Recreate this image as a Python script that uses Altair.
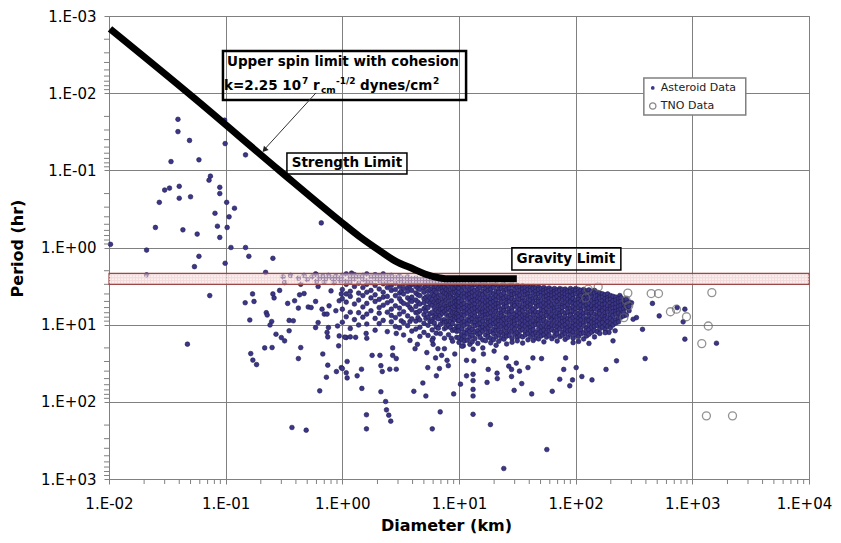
import altair as alt
import pandas as pd

W, H = 700, 463

# ---------------- data ----------------
ast_small = [(0.039,0.0218),(0.039,0.0315),(0.049,0.041),(0.034,0.077),(0.059,0.073),(0.098,0.0224),
             (0.099,0.045),(0.148,0.063),(0.074,0.119),(0.072,0.134),(0.040,0.161),(0.030,0.18),
             (0.033,0.17),(0.040,0.23),(0.050,0.22),(0.027,0.26),(0.089,0.166),(0.089,0.20),
             (0.102,0.26),(0.119,0.31),(0.081,0.36),(0.107,0.40),(0.025,0.55),(0.043,0.59),
             (0.085,0.53),(0.103,0.55),(0.057,0.67),(0.089,0.74),(0.66,0.48),(0.0103,0.91),
             (0.021,1.08),(0.111,1.0),(0.148,1.0),(0.158,1.3),(0.254,1.38),(0.059,1.3),
             (0.054,1.77),(0.099,1.6),(0.22,2.1),(0.59,2.2),(0.021,2.26)]
ast_sub1 = [(0.073,4.2),(0.047,17.9),(0.147,5.2),(0.170,4.0),(0.175,5.0),(0.161,8.7),(0.254,4.0),
            (0.26,4.5),(0.29,3.6),(0.223,7.0),(0.227,7.5),(0.248,9.1),(0.24,10.1),(0.27,13.3),
            (0.30,14.7),(0.32,16.2),(0.216,20),(0.25,19.8),(0.164,23.7),(0.171,28.8),(0.184,32.9),
            (0.34,5.3),(0.35,8.8),(0.38,8.9),(0.35,12),(0.39,4.9),(0.43,4.1),(0.47,3.95),(0.42,6.1),
            (0.51,5.9),(0.54,6.0),(0.44,19.8),(0.42,27.5),(0.37,215),(0.49,233),(0.44,3.0),(0.32,2.85),
            (0.62,3.2),(0.59,5.0),(0.80,3.65),(0.77,5.7),(0.67,6.3),(0.70,7.3),(0.74,7.3),(0.88,6.6),
            (0.94,4.9),(0.62,9.4),(0.59,10.9),(0.76,10.9),(0.91,10.4),(0.74,12.6),(0.75,14.4),
            (0.94,14),(0.93,18.8),(1.08,14.7),(0.68,24),(0.75,33.5),(0.73,48),(0.89,40.5),(0.98,36),
            (1.1,30),(1.08,42),(1.1,49),(0.64,72),(0.98,4.0)]
ast_band_row = [(0.31,2.4),(0.36,2.3),(0.42,2.5),(0.47,2.3),(0.5,2.6),(0.55,2.4),(0.6,2.25),(0.64,2.5),
                (0.68,2.35),(0.72,2.55),(0.76,2.3),(0.8,2.45),(0.84,2.6),(0.88,2.35),(0.92,2.5),
                (0.96,2.7),(0.7,2.8),(0.85,2.85),(0.6,2.75),(1.2,2.15)]
ast_slow = [(1.0,37),(1.34,46),(1.46,37.8),(1.47,67),(1.61,147),(1.61,224),(2.14,34),(2.2,40.5),
            (2.14,74),(2.35,99),(2.39,127),(2.5,149),(2.6,178),(2.55,37.8),(2.9,37.8),(2.9,27.5),
            (4.1,73),(4.9,57),(5.2,84),(5.9,224),(6.9,135),(6.8,37),(8.1,34),(9.0,79),(10.3,59),
            (11.6,46),(13.2,44),(13.2,53),(13.2,69),(13.2,84),(13.2,145),(13.4,29.4),(11.6,29),
            (17.4,56),(17.8,38),(18.6,197),(21.2,42.5),(21.3,50),(24.2,731),(28.2,38),(28.2,47),
            (29.7,71),(34.5,58),(42,79),(56.6,415),(63,73),(73,51),(89,62),(94,52),(113,47),
            (138,52),(182,38),(224,29.4),(394,27.5)]
ast_mid_extra = [(1.05,14.5),(1.17,14.4),(1.3,14.6),(1.6,13),(1.62,15),(1.8,25),(2.1,25),(2.7,20),
                 (2.7,25),(2.9,13),(3.8,16),(4.2,20.5),(4.4,18),(5.3,23),(6.0,15),(6.0,18),(6.3,27),
                 (7.1,25),(7.5,20.5),(8.6,15),(5.4,36),(6.4,46),(7.9,29),(6.6,20.5),(9.2,24),
                 (10.9,18.8),(13.2,20.8),(16.2,24),(20,22),(25.4,27),(31,31.5),(26.7,34.5),(33,40),
                 (39,36),(43,27),(51,27.5),(79,38),(82,27),(101,36)]
ast_large = [(455,5.3),(520,7.7),(374,11.5),(863,15.4),(1610,17.4),(863,6.3),(834,9.2),(741,6.0),
             (332,8.1),(311,8.5),(209,16.2),(218,12),(193,12.6),(239,4.2),(255,5.2),(301,5.2)]

# dense cloud, read column by column: (D km, [P hr ...])
cloud_small_D = [
    (1.00, [2.3, 2.65, 3.5, 4.6, 6.3, 9.3]),
    (1.08, [2.2, 2.75, 3.0, 4.0, 5.1, 7.9]),
    (1.17, [2.45, 2.8, 3.7, 4.3, 6.9, 11.2]),
    (1.27, [2.25, 2.55, 3.2, 5.4, 8.6]),
    (1.38, [2.4, 2.9, 3.9, 4.8, 7.0, 10.1]),
    (1.50, [2.3, 2.6, 3.3, 4.2, 5.9, 8.0]),
    (1.62, [2.2, 2.7, 3.0, 3.8, 5.3, 7.3, 9.8]),
    (1.76, [2.4, 2.85, 3.6, 4.5, 6.6]),
    (1.91, [2.25, 2.55, 3.1, 4.1, 5.0, 8.3, 11.8]),
    (2.07, [2.35, 2.7, 3.45, 4.7, 6.0, 7.1, 9.7]),
    (2.24, [2.2, 2.5, 2.95, 3.8, 4.4, 5.6, 8.8]),
    (2.43, [2.4, 2.8, 3.3, 4.3, 5.2, 6.9, 12.3]),
    (2.63, [2.3, 2.6, 3.1, 3.6, 4.9, 6.3, 7.6, 9.2]),
    (2.85, [2.45, 2.9, 3.5, 4.2, 5.7, 8.1, 10.6]),
    (3.09, [2.35, 2.7, 3.2, 3.9, 4.6, 6.1, 7.3, 11]),
    (3.2, [2.6, 3.7, 5.0, 8.9]),
    (3.35, [2.5, 2.95, 3.4, 4.0, 5.3, 6.8, 9.4, 13.6]),
    (3.63, [2.4, 2.75, 3.3, 3.7, 4.5, 5.5, 7.7, 10.3]),
    (3.8, [2.65, 3.15, 4.8, 6.0, 9.1]),
    (3.94, [2.55, 3.0, 3.6, 4.4, 5.0, 6.4, 8.4, 12.1]),
    (4.27, [2.5, 2.85, 3.2, 3.9, 4.8, 5.8, 7.0, 9.0, 11.4]),
    (4.45, [2.7, 3.4, 4.1, 5.1, 6.9, 8.1]),
    (4.62, [2.6, 3.05, 3.5, 4.2, 5.4, 6.6, 8.7, 10.8, 14.2]),
    (5.01, [2.55, 2.9, 3.35, 3.8, 4.6, 5.2, 6.2, 7.4, 9.6, 12.6]),
    (5.2, [2.75, 3.2, 4.4, 5.9, 6.7, 8.3]),
    (5.43, [2.7, 3.1, 3.7, 4.3, 5.0, 6.0, 7.9, 10.2, 13.8]),
    (5.65, [2.85, 3.5, 4.5, 5.3, 7.2, 9.0]),
    (5.89, [2.6, 2.95, 3.4, 4.0, 4.7, 5.6, 6.9, 8.5, 9.2, 11.7, 16]),
    (6.15, [2.8, 3.3, 3.6, 4.2, 5.1, 6.1, 7.7, 9.5]),
    (6.38, [2.75, 3.2, 3.8, 4.5, 5.3, 6.5, 7.4, 8.1, 10.7, 12.9]),
    (6.65, [2.9, 3.4, 4.3, 5.0, 5.7, 6.8, 8.4, 11.1]),
    (6.92, [2.7, 3.0, 3.5, 4.1, 4.9, 5.9, 6.3, 7.6, 9.9, 13.1]),
    (7.2, [2.95, 3.35, 3.7, 4.7, 5.2, 6.2, 7.1, 8.8]),
    (7.50, [2.8, 3.25, 3.9, 4.4, 5.5, 6.7, 8.6, 9.4, 11.3, 15]),
    (7.8, [2.9, 3.0, 3.5, 4.0, 4.8, 5.8, 6.4, 7.4, 9.2, 10.8]),
    (8.13, [2.85, 3.1, 3.6, 4.2, 5.0, 5.7, 6.2, 7.8, 8.9, 10.2, 13.5]),
    (8.45, [2.95, 3.5, 4.1, 4.4, 5.4, 6.6, 7.5, 9.1, 10.9]),
    (8.81, [2.9, 3.35, 3.9, 4.6, 5.3, 6.0, 7.0, 8.3, 9.7, 11.9, 16.4]),
    (9.2, [3.0, 3.4, 3.8, 4.5, 5.1, 5.8, 6.9, 7.9, 8.6, 11.5]),
    (9.55, [2.85, 3.2, 3.7, 4.3, 4.9, 5.5, 6.4, 7.2, 8.1, 10.4, 12.2, 14.6]),
    (9.85, [2.95, 3.3, 4.0, 4.7, 5.6, 6.3, 7.5, 9.0, 10.8]),
]
cloud_large_D = [
    (10.0, [2.95, 3.4, 3.8, 4.6, 5.1, 5.9, 6.5, 7.9, 8.8, 10.6, 12, 14.8, 17]),
    (10.6, [3.1, 3.6, 4.2, 4.9, 5.5, 6.2, 7.3, 8.3, 9.5, 11.3, 13.4, 15.5, 19]),
    (11.1, [3.0, 3.3, 3.9, 4.4, 5.3, 6.0, 6.9, 7.6, 9.1, 10.2, 12.6, 14.2, 16.3]),
    (11.8, [3.2, 3.7, 4.1, 4.7, 5.6, 6.4, 7.1, 8.6, 9.8, 11.7, 13, 15.9]),
    (12.4, [2.95, 3.5, 4.0, 4.5, 5.2, 5.8, 6.7, 8.0, 8.9, 10.9, 12.2, 14.5, 18]),
    (13.0, [3.1, 3.4, 3.8, 4.3, 4.9, 5.7, 6.3, 7.4, 8.4, 9.4, 11.5, 13.7, 16.6]),
    (13.7, [3.0, 3.6, 4.2, 4.8, 5.4, 6.1, 7.0, 7.8, 9.2, 10.4, 12.4, 15.2]),
    (14.5, [3.2, 3.5, 3.9, 4.5, 5.0, 5.9, 6.6, 8.1, 8.7, 10.0, 11.9, 13.3, 17.5]),
    (15.2, [2.95, 3.3, 4.0, 4.6, 5.3, 6.2, 7.2, 8.5, 9.6, 11.1, 12.9, 14.7]),
    (16.0, [3.1, 3.7, 4.1, 4.8, 5.5, 6.4, 6.9, 7.7, 9.0, 10.7, 12.1, 15.8, 20]),
    (16.9, [3.0, 3.4, 3.8, 4.4, 5.1, 5.8, 6.7, 7.5, 8.2, 9.9, 11.4, 13.6, 16.1]),
    (17.8, [3.2, 3.6, 4.3, 4.9, 5.6, 6.3, 7.3, 8.8, 9.4, 11.0, 12.7, 14.4]),
    (18.7, [3.05, 3.5, 3.9, 4.6, 5.2, 6.0, 7.0, 7.9, 9.1, 10.3, 12.3, 15.0, 17.2]),
    (19.8, [3.1, 3.3, 4.0, 4.5, 5.0, 5.7, 6.5, 7.6, 8.6, 9.7, 11.6, 13.1, 15.6]),
    (20.8, [3.0, 3.7, 4.2, 4.8, 5.4, 6.1, 6.8, 8.0, 9.3, 10.8, 12.0, 14.3, 18.5]),
    (21.9, [3.2, 3.5, 3.8, 4.4, 5.3, 5.9, 7.1, 8.3, 8.9, 10.1, 11.8, 13.5, 16.4]),
    (23.1, [3.1, 3.4, 4.1, 4.7, 5.1, 6.3, 7.2, 7.7, 9.0, 10.5, 12.5, 14.9]),
    (24.3, [3.0, 3.6, 3.9, 4.5, 5.5, 6.0, 6.6, 7.9, 8.5, 9.8, 11.3, 13.2, 15.4]),
    (25.6, [3.2, 3.5, 4.3, 4.9, 5.2, 5.8, 6.9, 8.2, 9.5, 11.0, 12.8, 14.1, 17.8]),
    (27.0, [3.1, 3.4, 3.8, 4.4, 5.0, 6.2, 7.0, 7.5, 8.7, 10.2, 11.9, 13.8]),
    (28.5, [3.05, 3.7, 4.1, 4.6, 5.4, 6.1, 6.7, 8.0, 9.2, 10.6, 12.2, 15.1, 16.9]),
    (30.0, [3.2, 3.5, 4.0, 4.8, 5.3, 5.7, 7.3, 8.4, 9.0, 9.9, 11.5, 13.4]),
    (31.6, [3.1, 3.3, 3.9, 4.3, 5.1, 6.0, 6.8, 7.7, 8.6, 10.4, 12.6, 14.6, 16.2]),
    (33.3, [3.25, 3.6, 4.2, 4.7, 5.6, 6.4, 7.1, 8.1, 9.4, 10.9, 12.0, 13.9]),
    (35.1, [3.15, 3.45, 3.8, 4.5, 5.0, 5.9, 6.6, 7.6, 8.8, 10.1, 11.6, 14.4, 17.3]),
    (37.0, [3.3, 3.7, 4.1, 4.9, 5.4, 6.2, 7.4, 8.3, 9.1, 10.5, 12.4, 13.6]),
    (39.0, [3.2, 3.5, 4.0, 4.4, 5.2, 5.8, 6.9, 7.8, 8.5, 9.7, 11.2, 13.0, 15.7]),
    (41.1, [3.3, 3.6, 4.3, 4.8, 5.5, 6.1, 6.7, 8.0, 9.3, 10.8, 12.1, 14.2]),
    (43.3, [3.2, 3.4, 3.9, 4.6, 5.1, 6.3, 7.2, 7.5, 8.9, 10.3, 11.7, 13.3, 16.0]),
    (45.6, [3.35, 3.7, 4.1, 4.5, 5.3, 5.9, 6.8, 8.2, 9.5, 10.0, 12.7, 14.8]),
    (48.1, [3.25, 3.5, 4.0, 4.7, 5.0, 5.7, 7.0, 7.7, 8.6, 9.9, 11.4, 13.1, 15.3]),
    (50.7, [3.4, 3.8, 4.2, 4.9, 5.6, 6.4, 7.3, 8.4, 9.0, 10.6, 12.2, 14.0]),
    (53.4, [3.3, 3.6, 3.9, 4.4, 5.2, 6.0, 6.6, 7.9, 8.8, 10.2, 11.8, 13.5, 16.7]),
    (56.3, [3.45, 3.75, 4.3, 4.8, 5.4, 6.2, 7.1, 7.6, 9.2, 10.7, 12.5, 14.5]),
    (59.3, [3.35, 3.6, 4.1, 4.6, 5.1, 5.8, 6.9, 8.1, 9.6, 11.0, 12.0, 13.8]),
    (62.5, [3.5, 3.9, 4.2, 4.7, 5.5, 6.3, 7.4, 8.3, 8.7, 10.1, 11.6, 15.2]),
    (65.9, [3.4, 3.7, 4.0, 4.5, 5.3, 6.1, 6.7, 7.8, 9.0, 10.4, 12.3, 14.1]),
    (69.4, [3.55, 3.8, 4.3, 4.9, 5.0, 5.9, 7.0, 8.0, 9.4, 10.8, 11.9, 13.2, 16.3]),
    (73.2, [3.4, 3.6, 4.1, 4.6, 5.4, 6.4, 7.2, 7.7, 8.5, 9.8, 11.3, 14.3]),
    (77.1, [3.5, 3.9, 4.4, 4.8, 5.6, 6.0, 6.8, 8.2, 9.1, 10.5, 12.6, 13.7]),
    (81.3, [3.45, 3.7, 4.0, 4.5, 5.2, 5.8, 7.1, 7.9, 8.8, 10.0, 11.5, 13.0, 15.5]),
    (85.6, [3.6, 3.8, 4.2, 4.7, 5.5, 6.3, 6.9, 8.4, 9.3, 10.9, 12.1, 14.6]),
    (90.2, [3.4, 3.7, 4.3, 4.9, 5.1, 6.1, 7.3, 7.6, 8.6, 10.3, 11.8, 13.4]),
    (95.1, [3.55, 3.9, 4.1, 4.6, 5.3, 5.9, 6.7, 8.1, 9.5, 10.7, 12.4, 15.0, 17.1]),
    (100, [3.4, 3.6, 4.0, 4.8, 5.4, 6.2, 7.0, 7.8, 8.9, 10.2, 11.4, 13.6]),
    (106, [3.5, 3.8, 4.4, 4.7, 5.2, 6.0, 7.2, 8.3, 9.2, 10.6, 12.2, 14.2, 16.5]),
    (111, [3.6, 4.0, 4.2, 4.9, 5.6, 6.4, 6.8, 7.7, 8.7, 9.9, 11.7, 13.1]),
    (117, [3.5, 3.7, 4.3, 4.6, 5.1, 5.8, 7.1, 8.0, 9.4, 10.4, 12.8, 15.3]),
    (124, [3.65, 3.9, 4.1, 4.8, 5.5, 6.3, 6.9, 8.5, 9.0, 11.1, 12.0, 14.0]),
    (130, [3.55, 4.0, 4.5, 5.0, 5.3, 6.1, 7.4, 7.8, 8.8, 10.1, 11.6, 13.3, 17.5]),
    (137, [3.7, 4.1, 4.4, 4.9, 5.7, 6.5, 7.0, 8.2, 9.3, 10.8, 12.5]),
    (145, [3.6, 3.9, 4.6, 5.2, 5.9, 6.2, 7.3, 8.6, 9.6, 10.5, 11.9, 14.4]),
    (153, [3.8, 4.2, 4.7, 5.1, 5.6, 6.4, 7.5, 8.0, 9.1, 10.2, 12.3]),
    (161, [3.9, 4.3, 4.5, 5.3, 6.0, 6.8, 7.2, 8.4, 9.8, 11.3, 13.0]),
    (170, [4.0, 4.4, 4.9, 5.5, 6.2, 6.6, 7.7, 8.9, 9.4, 10.8]),
    (179, [4.1, 4.6, 5.1, 5.4, 6.1, 7.0, 7.9, 8.5, 10.0, 11.6, 12.7]),
    (188, [4.0, 4.5, 4.8, 5.7, 6.4, 6.9, 8.1, 9.2, 10.5]),
    (199, [4.2, 4.7, 5.2, 5.9, 6.3, 7.4, 8.3, 9.6, 11.0]),
    (209, [4.3, 4.9, 5.5, 6.1, 6.8, 7.6, 8.8, 10.1]),
    (221, [4.4, 4.8, 5.3, 6.0, 6.7, 7.3, 8.6, 9.5]),
    (233, [4.6, 5.1, 5.8, 6.5, 7.1, 8.2, 9.2]),
    (245, [4.5, 5.0, 5.6, 6.3, 7.4, 8.0]),
    (258, [4.8, 5.4, 6.2, 6.9, 7.7]),
    (272, [4.7, 5.3, 6.0, 7.5]),
    (287, [5.1, 5.8, 6.6]),
]

tno_pts = [(128,3.47),(156,3.24),(122,4.5),(280,3.9),(270,4.8),(259,8.1),(285,5.7),(444,3.95),
           (513,3.95),(649,6.8),(731,6.3),(891,7.9),(1470,3.84),(1370,10.4),(1205,17.6),
           (1320,152),(2210,152)]

limit_D = [0.0102, 0.0535, 0.292, 0.953, 1.42, 2.1, 2.83, 4.03, 5.1, 6.86, 8.36, 10.2, 31.3]
limit_P = [0.00147, 0.01153, 0.102, 0.452, 0.73, 1.106, 1.49, 1.89, 2.2, 2.48, 2.55, 2.55, 2.55]

band_P = [2.16, 3.0]
band_lines_P = [2.35, 2.57, 2.8]

decades_x = [0.01, 0.1, 1, 10, 100, 1000, 10000]
decades_y = [0.001, 0.01, 0.1, 1, 10, 100, 1000]

# ---------------- tables ----------------
rows = []
for grp in (ast_small, ast_sub1, ast_band_row, ast_slow, ast_mid_extra, ast_large):
    rows += [{"D": d, "P": p} for d, p in grp]
for d, ps in cloud_small_D + cloud_large_D:
    rows += [{"D": d, "P": p} for p in ps]
ast = pd.DataFrame(rows)
tno = pd.DataFrame([{"D": d, "P": p} for d, p in tno_pts])
lim = pd.DataFrame({"D": limit_D, "P": limit_P, "o": list(range(len(limit_D)))})

minor_x = [m * 10.0 ** e for e in range(-2, 4) for m in range(2, 10)]
minor_y = [m * 10.0 ** e for e in range(-3, 3) for m in range(2, 10)]

xs = alt.Scale(type="log", domain=[0.01, 10000], nice=False)
ys = alt.Scale(type="log", domain=[0.001, 1000], nice=False, reverse=True)

lab = "'1.E' + (datum.value < 1 ? '-' : '+') + '0' + abs(round(log(datum.value) / LN10))"
GRID = "#808080"
FONT = "DejaVu Sans"

xaxis = alt.Axis(values=decades_x, labelExpr=lab, grid=True, gridColor=GRID, gridOpacity=1,
                 domainColor=GRID, tickColor=GRID, tickSize=5, labelFont=FONT, labelFontSize=15,
                 labelColor="black", labelPadding=12, labelFlush=False, labelOverlap=False,
                 labelBound=False,
                 labelOffset={"condition": {"test": "datum.value >= 10000", "value": -5}, "value": 0},
                 title="Diameter (km)", titleFont=FONT, titleFontSize=16, titleFontWeight="bold",
                 titleColor="black", titleX=337, titleY=46, titleBaseline="middle", titleAlign="center")
yaxis = alt.Axis(values=decades_y, labelExpr=lab, grid=True, gridColor=GRID, gridOpacity=1,
                 domainColor=GRID, tickColor=GRID, tickSize=5, labelFont=FONT, labelFontSize=15,
                 labelColor="black", labelPadding=8, labelOverlap=False, labelFlush=False,
                 title="Period (hr)", titleFont=FONT, titleFontSize=16, titleFontWeight="bold",
                 titleColor="black", titleAngle=270, titleX=-92, titleY=232,
                 titleBaseline="middle", titleAlign="center")

def X(f):
    return alt.X(f, scale=xs, axis=xaxis)

def Y(f):
    return alt.Y(f, scale=ys, axis=yaxis)

points = alt.Chart(ast).mark_circle(size=22, color="#3b3687", stroke="#1e1b4f",
                                     strokeWidth=0.6, opacity=1).encode(x=X("D:Q"), y=Y("P:Q"))

mx = alt.Chart(pd.DataFrame({"v": minor_x})).mark_rule(color=GRID).encode(
    x=X("v:Q"), y=alt.value(H), y2=alt.value(H + 5))
my = alt.Chart(pd.DataFrame({"v": minor_y})).mark_rule(color=GRID).encode(
    y=Y("v:Q"), x=alt.value(-5), x2=alt.value(0))

tnos = alt.Chart(tno).mark_point(shape="circle", size=64, filled=False, color="#666666",
                                 strokeWidth=1.3).encode(x=X("D:Q"), y=Y("P:Q"))

band_df = pd.DataFrame({"x0": [0.01], "x1": [10000], "y0": [band_P[0]], "y1": [band_P[1]]})
band = alt.Chart(band_df).mark_rect(fill="#ecc4c4", fillOpacity=0.6, stroke="#9b4848",
                                    strokeWidth=1.2).encode(
    x=X("x0:Q"), x2="x1:Q", y=Y("y0:Q"), y2="y1:Q")
band_dots = alt.Chart(pd.DataFrame({"x0": [0.01] * 3, "x1": [10000] * 3, "y": band_lines_P})).mark_rule(
    color="#ffffff", strokeWidth=1, strokeDash=[2, 1], opacity=0.9).encode(
    x=X("x0:Q"), x2="x1:Q", y=Y("y:Q"))

line = alt.Chart(lim).mark_line(color="black", strokeWidth=7, interpolate="monotone",
                                strokeCap="butt").encode(x=X("D:Q"), y=Y("P:Q"), order="o:Q")

boxes = pd.DataFrame({
    "x0": [0.0948, 0.335, 28.4], "x1": [11.5, 3.58, 244],
    "y0": [0.00284, 0.0596, 1.01], "y1": [0.01225, 0.1114, 1.95],
    "w": [2.5, 1.5, 1.5]})
box_layer = alt.Chart(boxes).mark_rect(fill="white", fillOpacity=0, stroke="black").encode(
    x=X("x0:Q"), x2="x1:Q", y=Y("y0:Q"), y2="y1:Q",
    strokeWidth=alt.StrokeWidth("w:Q", scale=None, legend=None))

def label(txt, d, p, size=13.5, weight="bold", align="left", dx=0, dy=0, color="black"):
    return alt.Chart(pd.DataFrame({"D": [d], "P": [p], "t": [txt]})).mark_text(
        font=FONT, fontSize=size, fontWeight=weight, align=align, baseline="middle",
        dx=dx, dy=dy, color=color).encode(x=X("D:Q"), y=Y("P:Q"), text="t:N")

L2D, L2P = 0.0967, 0.00807
texts = [
    label("Upper spin limit with cohesion", 0.1026, 0.00394),
    label("k=2.25 10", L2D, L2P),
    label("7", L2D, L2P, size=9, dx=78, dy=-5),
    label("r", L2D, L2P, dx=89),
    label("cm", L2D, L2P, size=9, dx=97, dy=4),
    label("-1/2", L2D, L2P, size=9, dx=112, dy=-5),
    label("dynes/cm", L2D, L2P, dx=136),
    label("2", L2D, L2P, size=9, dx=209, dy=-5),
    label("Strength Limit", 1.094, 0.0815, align="center"),
    label("Gravity Limit", 82.4, 1.406, align="center"),
]

arrow_df = pd.DataFrame({"x0": [0.594], "y0": [0.00993], "x1": [0.209], "y1": [0.0561]})
arrow = alt.Chart(arrow_df).mark_rule(color="#333333", strokeWidth=1).encode(
    x=X("x0:Q"), y=Y("y0:Q"), x2="x1:Q", y2="y1:Q")
head = alt.Chart(pd.DataFrame({"D": [0.215], "P": [0.0545]})).mark_point(
    shape="triangle-up", filled=True, color="#222222", size=40, angle=222, opacity=1).encode(
    x=X("D:Q"), y=Y("P:Q"))

leg_box = alt.Chart(pd.DataFrame({"x0": [384], "x1": [2870], "y0": [0.00635], "y1": [0.01914]})).mark_rect(
    fill="white", stroke=GRID, strokeWidth=1.5).encode(x=X("x0:Q"), x2="x1:Q", y=Y("y0:Q"), y2="y1:Q")
leg_a = alt.Chart(pd.DataFrame({"D": [458], "P": [0.00857]})).mark_circle(
    size=14, color="#3b3687", opacity=1).encode(x=X("D:Q"), y=Y("P:Q"))
leg_t = alt.Chart(pd.DataFrame({"D": [458], "P": [0.01466]})).mark_point(
    shape="circle", size=40, filled=False, color="#555555", strokeWidth=1.3).encode(x=X("D:Q"), y=Y("P:Q"))
leg_txt = [label("Asteroid Data", 537, 0.00857, size=11, weight="normal", color="#222222"),
           label("TNO Data", 537, 0.01466, size=11, weight="normal", color="#222222")]

chart = alt.layer(points, mx, my, tnos, band, band_dots, line, box_layer, arrow, head, *texts,
                  leg_box, leg_a, leg_t, *leg_txt).properties(
    width=W, height=H,
    padding={"left": 101, "top": 8, "right": 24, "bottom": 56},
    autosize=alt.AutoSizeParams(type="none"),
    background="white",
).configure_view(stroke=GRID, strokeWidth=1)

chart.save("out.html", embed_options={"renderer": "svg", "actions": False})
